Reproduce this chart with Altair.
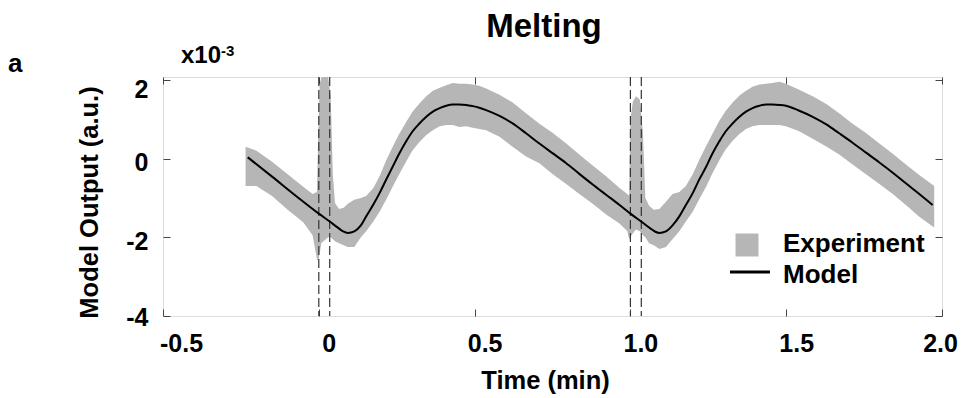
import altair as alt
import pandas as pd

FONT = "Liberation Sans"
GRAY = "#b6b6b6"
FRAME = "#808080"

# ---- data (values in units of 1e-3) ----
exp_t = [-0.235, -0.20, -0.15, -0.10, -0.05, -0.02, -0.006, -0.002, 0.003, 0.008, 0.015, 0.03, 0.038, 0.045,
         0.052, 0.065, 0.080, 0.093, 0.114, 0.135, 0.152, 0.175, 0.195, 0.216, 0.237, 0.258, 0.280, 0.300,
         0.323, 0.345, 0.366, 0.388, 0.409, 0.430, 0.451, 0.473, 0.494, 0.515, 0.537, 0.58, 0.622, 0.665,
         0.708, 0.751, 0.794, 0.836, 0.879, 0.922, 0.965, 0.99, 0.996, 1.0, 1.008, 1.018, 1.03, 1.04,
         1.048, 1.06, 1.075, 1.093, 1.114, 1.135, 1.157, 1.178, 1.20, 1.22, 1.243, 1.263, 1.285, 1.305,
         1.328, 1.35, 1.371, 1.392, 1.414, 1.435, 1.456, 1.478, 1.499, 1.54, 1.585, 1.63, 1.670, 1.713,
         1.756, 1.799, 1.842, 1.884, 1.927, 1.975]
exp_lo = [-0.70, -0.70, -0.95, -1.30, -1.62, -1.95, -2.55, -2.60, -2.40, -2.15, -2.10, -2.00, -2.00, -2.05,
          -2.10, -2.15, -2.20, -2.25, -2.25, -2.00, -1.85, -1.60, -1.35, -1.05, -0.72, -0.40, -0.08, 0.20,
          0.42, 0.60, 0.72, 0.82, 0.85, 0.85, 0.80, 0.82, 0.78, 0.75, 0.72, 0.55, 0.30, 0.05,
          -0.12, -0.40, -0.65, -0.90, -1.15, -1.42, -1.65, -1.85, -2.05, -2.00, -1.90, -1.80, -1.85, -1.95,
          -2.00, -2.15, -2.20, -2.30, -2.25, -2.05, -1.85, -1.60, -1.35, -1.05, -0.72, -0.38, -0.05, 0.22,
          0.45, 0.62, 0.75, 0.82, 0.85, 0.85, 0.85, 0.85, 0.82, 0.70, 0.50, 0.30, 0.10, -0.15,
          -0.40, -0.65, -0.90, -1.18, -1.48, -1.75]
exp_hi = [0.30, 0.20, -0.08, -0.40, -0.72, -0.90, -0.85, 0.60, 1.90, 2.05, 2.07, 2.07, 1.60, -0.40,
          -1.13, -1.28, -1.25, -1.15, -1.05, -1.00, -0.95, -0.75, -0.45, -0.05, 0.30, 0.62, 0.92, 1.18,
          1.40, 1.58, 1.72, 1.80, 1.86, 1.92, 1.90, 1.90, 1.88, 1.85, 1.78, 1.62, 1.42, 1.15,
          0.88, 0.65, 0.38, 0.10, -0.18, -0.45, -0.75, -0.90, -0.95, 1.00, 1.45, 1.58, 1.50, 0.70,
          -1.00, -1.20, -1.30, -1.28, -1.10, -0.90, -0.85, -0.70, -0.40, -0.05, 0.32, 0.62, 0.95, 1.20,
          1.42, 1.60, 1.72, 1.82, 1.88, 1.90, 1.92, 1.95, 1.90, 1.75, 1.58, 1.38, 1.15, 0.88,
          0.65, 0.38, 0.12, -0.15, -0.42, -0.70]

model_t = [-0.228, -0.15, -0.07, 0.0, 0.035, 0.06, 0.078, 0.093, 0.114, 0.135, 0.152, 0.175, 0.195, 0.216,
           0.237, 0.258, 0.280, 0.300, 0.323, 0.345, 0.366, 0.388, 0.409, 0.430, 0.451, 0.473, 0.494, 0.515,
           0.537, 0.58, 0.622, 0.665, 0.708, 0.751, 0.794, 0.836, 0.879, 0.922, 0.965, 1.0, 1.038, 1.065,
           1.08, 1.093, 1.114, 1.135, 1.157, 1.178, 1.20, 1.22, 1.243, 1.263, 1.285, 1.305, 1.328, 1.35,
           1.371, 1.392, 1.414, 1.435, 1.456, 1.478, 1.499, 1.54, 1.585, 1.63, 1.670, 1.713, 1.756, 1.799,
           1.842, 1.884, 1.927, 1.97]
model_y = [0.03, -0.46, -0.97, -1.40, -1.60, -1.75, -1.85, -1.89, -1.85, -1.70, -1.47, -1.17, -0.88, -0.54,
           -0.21, 0.12, 0.43, 0.68, 0.89, 1.06, 1.19, 1.28, 1.34, 1.37, 1.37, 1.36, 1.33, 1.29,
           1.23, 1.08, 0.89, 0.64, 0.38, 0.13, -0.12, -0.39, -0.66, -0.92, -1.18, -1.40, -1.62, -1.78,
           -1.86, -1.89, -1.85, -1.70, -1.47, -1.18, -0.88, -0.55, -0.21, 0.12, 0.43, 0.68, 0.89, 1.06,
           1.19, 1.28, 1.34, 1.37, 1.37, 1.36, 1.34, 1.22, 1.06, 0.86, 0.64, 0.40, 0.15, -0.10,
           -0.36, -0.63, -0.90, -1.18]

dash_t = [0.0, 0.035, 1.0, 1.035]
x_ticks = [-0.5, 0, 0.5, 1.0, 1.5, 2.0]
y_ticks = [-4, -2, 0, 2]
legend_labels = ["Experiment", "Model"]
panel_label = ["a"]
exponent_base = ["x10"]
exponent_power = ["-3"]
title_text = ["Melting"]

exp_df = pd.DataFrame({"t": exp_t, "lo": exp_lo, "hi": exp_hi})
model_df = pd.DataFrame({"t": model_t, "y": model_y})
dash_df = pd.DataFrame({"t": dash_t})

W, H = 779, 239
xs = alt.Scale(domain=[-0.5, 2.0], nice=False, zero=False)
ys = alt.Scale(domain=[-4, 2.07], nice=False, zero=False)

x_bottom = alt.Axis(
    orient="bottom", values=x_ticks,
    labelExpr="datum.value == 0 ? '0' : (datum.value < 0 ? '-' : '') + format(abs(datum.value), '.1f')",
    domain=False, grid=False, ticks=True, tickSize=7, offset=-7, tickColor="#444",
    labelFont=FONT, labelFontSize=25, labelFontWeight="bold", labelColor="black",
    labelPadding=15, labelOverlap=False, labelFlush=False,
    labelOffset={"condition": [{"test": "datum.value == -0.5", "value": 18},
                               {"test": "datum.value == 2", "value": -2}], "value": 10},
    titleFont=FONT, titleFontSize=25.5, titleFontWeight="bold", titleColor="black",
    titleX=382, titleY=79, titleBaseline="alphabetic", titleAlign="center",
)
y_left = alt.Axis(
    orient="left", values=y_ticks,
    labelExpr="(datum.value < 0 ? '-' : '') + format(abs(datum.value), 'd')",
    domain=False, grid=False, ticks=True, tickSize=7, offset=-7, tickColor="#444",
    labelFont=FONT, labelFontSize=25, labelFontWeight="bold", labelColor="black",
    labelPadding=15, labelOverlap=False, labelFlush=False,
    labelOffset={"condition": [{"test": "datum.value == 2", "value": 10},
                               {"test": "datum.value == -4", "value": 1}], "value": 4},
    titleFont=FONT, titleFontSize=25.5, titleFontWeight="bold", titleColor="black",
    titleX=-81, titleY=125, titleAngle=270, titleBaseline="middle", titleAlign="center",
)
x_top = alt.Axis(orient="top", values=x_ticks, labels=False, domain=False, grid=False,
                 ticks=True, tickSize=7, offset=-7, tickColor="#444", title=None)
y_right = alt.Axis(orient="right", values=y_ticks, labels=False, domain=False, grid=False,
                   ticks=True, tickSize=7, offset=-7, tickColor="#444", title=None)

band = alt.Chart(exp_df).mark_area(color=GRAY, opacity=1).encode(
    x=alt.X("t:Q", scale=xs, axis=x_bottom, title="Time (min)"),
    y=alt.Y("hi:Q", scale=ys, axis=y_left, title="Model Output (a.u.)"),
    y2="lo:Q",
)

dashes = alt.Chart(dash_df).mark_rule(color="#333", strokeWidth=1.2, strokeDash=[9, 4]).encode(
    x=alt.X("t:Q", scale=xs, axis=None),
)

model = alt.Chart(model_df).mark_line(color="black", strokeWidth=2, interpolate="monotone").encode(
    x=alt.X("t:Q", scale=xs, axis=x_top),
    y=alt.Y("y:Q", scale=ys, axis=y_right),
)

# legend (drawn inside the plot area)
leg_sq = alt.Chart(pd.DataFrame({"label": legend_labels[:1]})).mark_square(
    color=GRAY, opacity=1, size=529).encode(x=alt.value(584), y=alt.value(168))
leg_ln = alt.Chart(pd.DataFrame({"label": legend_labels[1:]})).mark_rule(
    color="black", strokeWidth=3).encode(x=alt.value(567), x2=alt.value(607), y=alt.value(195))
leg_txt1 = alt.Chart(pd.DataFrame({"label": legend_labels[:1]})).mark_text(
    font=FONT, fontSize=26, fontWeight="bold", color="black", align="left", baseline="alphabetic"
).encode(x=alt.value(620), y=alt.value(175), text="label:N")
leg_txt2 = alt.Chart(pd.DataFrame({"label": legend_labels[1:]})).mark_text(
    font=FONT, fontSize=26, fontWeight="bold", color="black", align="left", baseline="alphabetic"
).encode(x=alt.value(620), y=alt.value(206), text="label:N")

# annotations and title
lab_title = alt.Chart(pd.DataFrame({"label": title_text})).mark_text(
    font=FONT, fontSize=33, fontWeight="bold", color="black", align="center", baseline="alphabetic"
).encode(x=alt.value(381), y=alt.value(-40), text="label:N")
lab_a = alt.Chart(pd.DataFrame({"label": panel_label})).mark_text(
    font=FONT, fontSize=26, fontWeight="bold", color="black", align="left", baseline="alphabetic"
).encode(x=alt.value(-155), y=alt.value(-5), text="label:N")
lab_x10 = alt.Chart(pd.DataFrame({"label": exponent_base})).mark_text(
    font=FONT, fontSize=24, fontWeight="bold", color="black", align="left", baseline="alphabetic"
).encode(x=alt.value(18), y=alt.value(-14), text="label:N")
lab_pow = alt.Chart(pd.DataFrame({"label": exponent_power})).mark_text(
    font=FONT, fontSize=15, fontWeight="bold", color="black", align="left", baseline="alphabetic"
).encode(x=alt.value(58), y=alt.value(-21), text="label:N")

chart = alt.layer(
    band, dashes, model, leg_sq, leg_ln, leg_txt1, leg_txt2, lab_title, lab_a, lab_x10, lab_pow
).resolve_axis(x="independent", y="independent").properties(
    width=W, height=H,
    autosize=alt.AutoSizeParams(type="none"),
    padding={"left": 163, "top": 77, "right": 22, "bottom": 82},
).configure_view(stroke=FRAME, strokeWidth=1.5).configure(background="white")

chart.save("out.html", embed_options={"renderer": "svg", "actions": False})
